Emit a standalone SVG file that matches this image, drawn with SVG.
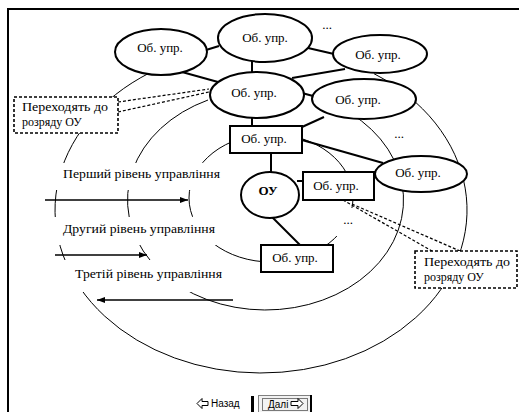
<svg xmlns="http://www.w3.org/2000/svg" width="519" height="412" viewBox="0 0 519 412">
<style>
.ring{fill:none;stroke:#000;stroke-width:1}
.node{fill:#fff;stroke:#000;stroke-width:2}
.conn{stroke:#000;stroke-width:2;fill:none}
.dash{stroke:#000;stroke-width:1.2;stroke-dasharray:3 2;fill:none}
.call{fill:#fff;stroke:#000;stroke-width:1.6;stroke-dasharray:3 2}
.t{font-family:'Liberation Serif','DejaVu Serif',serif;font-size:13px;fill:#000}
.s{font-size:12px}
.tc{text-anchor:middle}
.b{font-weight:bold}
.bg{fill:#fff}
.arr{stroke:#000;stroke-width:1.5;fill:none}
.btn{font-family:'Liberation Sans','DejaVu Sans',sans-serif;font-size:10px;fill:#000}
.icon{fill:#fff;stroke:#000;stroke-width:1}
</style>
<defs>
<marker id="ah" markerWidth="8" markerHeight="6" refX="8" refY="3" orient="auto" markerUnits="userSpaceOnUse"><path d="M0,0 L8,3 L0,6 z" fill="#000"/></marker>
</defs>
<rect x="0" y="0" width="519" height="412" fill="#fff"/>
<g id="frame">
<line x1="7" y1="9" x2="519" y2="9" stroke="#000" stroke-width="2"/>
<line x1="8" y1="9" x2="8" y2="412" stroke="#000" stroke-width="2"/>
</g>
<g id="rings">
<path class="ring" d="M150,72.7 A206,163 0 1 0 374,73.7"/>
<path class="ring" d="M208,100 A138,110 0 1 0 350,113"/>
<ellipse class="ring" cx="271" cy="198" rx="82" ry="64"/>
</g>
<g id="label-backgrounds">
<rect class="bg" x="40" y="163" width="186" height="27"/>
<rect class="bg" x="40" y="217" width="186" height="28"/>
<rect class="bg" x="60" y="260" width="172" height="32"/>
<rect class="bg" x="336" y="208" width="26" height="28"/>
</g>
<g id="connectors">
<line class="conn" x1="206" y1="50" x2="219" y2="46"/>
<line class="conn" x1="182" y1="72" x2="218" y2="82"/>
<line class="conn" x1="252" y1="61" x2="252" y2="73"/>
<line class="conn" x1="308" y1="48" x2="334" y2="54"/>
<line class="conn" x1="292" y1="78" x2="345" y2="69"/>
<line class="conn" x1="302" y1="93" x2="313" y2="96"/>
<line class="conn" x1="252" y1="117" x2="252" y2="126"/>
<line class="conn" x1="324" y1="117" x2="302" y2="127"/>
<line class="conn" x1="271" y1="153" x2="271" y2="172"/>
<line class="conn" x1="302" y1="140" x2="383" y2="163"/>
<line class="conn" x1="297" y1="181" x2="303" y2="181"/>
<line class="conn" x1="272" y1="217" x2="300" y2="245"/>
<line class="dash" x1="118" y1="102" x2="209" y2="89"/>
<line class="dash" x1="118" y1="112" x2="209" y2="92"/>
<line class="dash" x1="343" y1="200" x2="432" y2="251"/>
<line class="dash" x1="352" y1="204" x2="460" y2="251"/>
</g>
<g id="callout-left">
<rect class="call" x="14" y="97" width="104" height="36"/>
<text class="t s" x="22" y="111" textLength="86" lengthAdjust="spacingAndGlyphs">Переходять до</text>
<text class="t s" x="22" y="126">розряду ОУ</text>
</g>
<g id="callout-right">
<rect class="call" x="415" y="251" width="102" height="37"/>
<text class="t s" x="424" y="266" textLength="86" lengthAdjust="spacingAndGlyphs">Переходять до</text>
<text class="t s" x="424" y="281">розряду ОУ</text>
</g>
<g id="n1"><ellipse class="node" cx="161" cy="52" rx="46" ry="23"/><text class="t tc" x="160" y="52">Об. упр.</text></g>
<g id="n2"><ellipse class="node" cx="265" cy="38" rx="47" ry="24"/><text class="t tc" x="265" y="42">Об. упр.</text></g>
<g id="n3"><ellipse class="node" cx="380" cy="54" rx="47" ry="19"/><text class="t tc" x="378" y="59">Об. упр.</text></g>
<g id="n4"><ellipse class="node" cx="257" cy="95" rx="47" ry="23"/><text class="t tc" x="254" y="97">Об. упр.</text></g>
<g id="n5"><ellipse class="node" cx="364" cy="99" rx="52" ry="20"/><text class="t tc" x="358" y="104">Об. упр.</text></g>
<g id="n6"><rect class="node" x="230" y="126" width="72" height="27"/><text class="t tc" x="264" y="143">Об. упр.</text></g>
<g id="ou"><ellipse class="node" cx="270" cy="195" rx="29" ry="23"/><text class="t tc b" x="268" y="195">ОУ</text></g>
<g id="n8"><rect class="node" x="303" y="172" width="71" height="28"/><text class="t tc" x="336" y="190">Об. упр.</text></g>
<g id="n9"><ellipse class="node" cx="421" cy="174" rx="46" ry="18"/><text class="t tc" x="418" y="177">Об. упр.</text></g>
<g id="n10"><rect class="node" x="261" y="245" width="72" height="27"/><text class="t tc" x="295" y="262">Об. упр.</text></g>
<g id="ellipses-dots">
<text class="t tc" x="327" y="29">...</text>
<text class="t tc" x="399" y="138">...</text>
<text class="t tc" x="348" y="224">...</text>
</g>
<g id="levels">
<text class="t" x="63" y="178" textLength="157" lengthAdjust="spacingAndGlyphs">Перший рівень управління</text>
<line class="arr" x1="45" y1="200" x2="188" y2="200" marker-end="url(#ah)"/>
<text class="t" x="63" y="233" textLength="152" lengthAdjust="spacingAndGlyphs">Другий рівень управління</text>
<line class="arr" x1="55" y1="255" x2="147" y2="255" marker-end="url(#ah)"/>
<text class="t" x="75" y="278" textLength="147" lengthAdjust="spacingAndGlyphs">Третій рівень управління</text>
<line class="arr" x1="233" y1="300" x2="97" y2="300" marker-end="url(#ah)"/>
</g>
<g id="nav">
<polygon class="icon" points="197,403.5 202,398.5 202,401.5 208,401.5 208,405.5 202,405.5 202,408.5"/>
<text class="btn" x="211" y="407">Назад</text>
<rect x="251" y="396" width="3" height="16" fill="#000"/>
<rect x="258.5" y="395.5" width="52" height="17" fill="#f2f2f2" stroke="#808080" stroke-width="1"/>
<line x1="311" y1="395" x2="311" y2="412" stroke="#000" stroke-width="2"/>
<rect x="262.5" y="398.5" width="45" height="12" fill="none" stroke="#000" stroke-width="1" stroke-dasharray="1 1"/>
<text class="btn" x="268" y="408">Далі</text>
<polygon class="icon" points="303,403.5 298,398.5 298,401.5 291,401.5 291,405.5 298,405.5 298,408.5"/>
</g>
</svg>
